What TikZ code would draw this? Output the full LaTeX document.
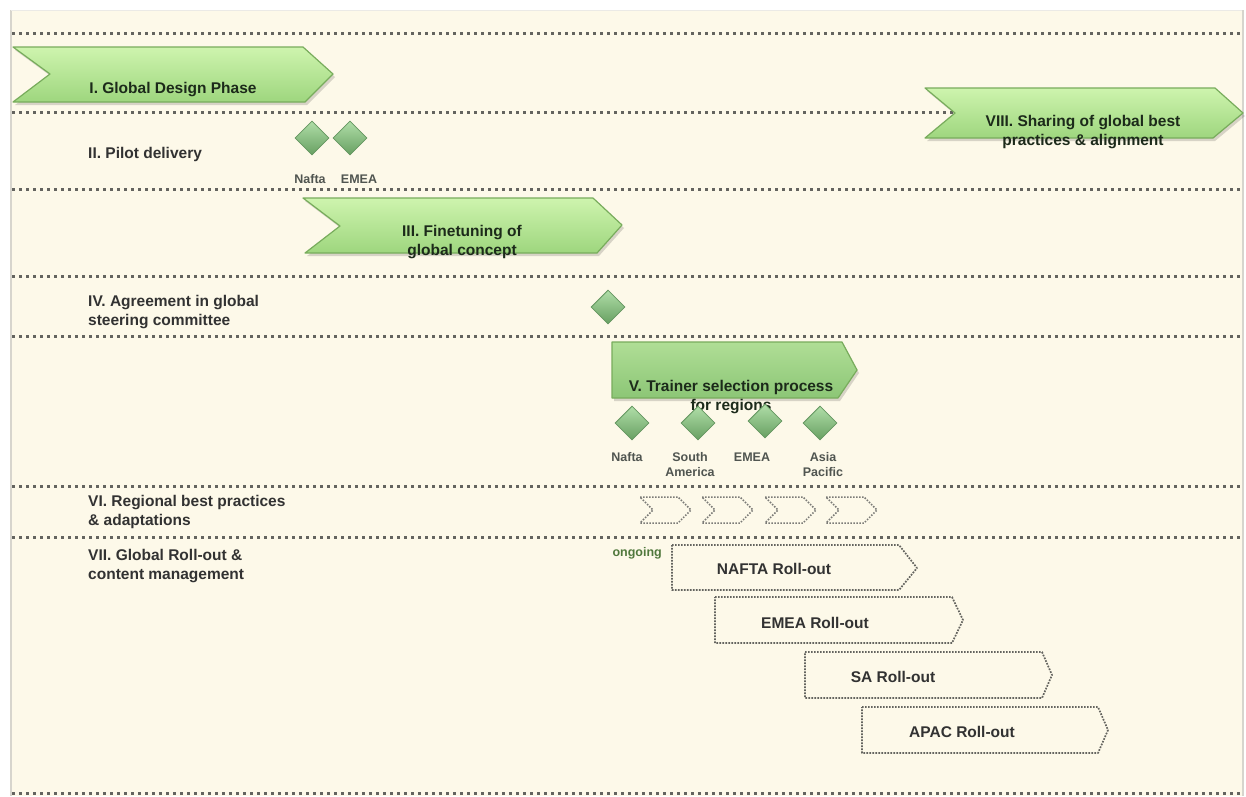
\documentclass[tikz,border=0pt]{standalone}
\usepackage{fontspec}
\setmainfont{Liberation Sans}
\usetikzlibrary{shapes.geometric}
\definecolor{cream}{RGB}{253,249,233}
\definecolor{edgegray}{RGB}{215,213,205}
\definecolor{dotgray}{RGB}{100,100,95}
\definecolor{labgray}{RGB}{50,50,50}
\definecolor{smallgray}{RGB}{80,85,80}
\definecolor{intextc}{RGB}{28,42,26}
\definecolor{gtop}{RGB}{206,244,174}
\definecolor{gbot}{RGB}{158,214,126}
\definecolor{gedge}{RGB}{120,172,92}
\definecolor{vtop}{RGB}{176,222,150}
\definecolor{vbot}{RGB}{140,198,118}
\definecolor{dtop}{RGB}{176,222,168}
\definecolor{dbot}{RGB}{104,160,98}
\definecolor{dedge}{RGB}{100,150,96}
\definecolor{ongoingc}{RGB}{80,120,60}
\begin{document}
\begin{tikzpicture}[x=1pt,y=-1pt,
  lab/.style={font=\fontsize{15.5}{18.5}\selectfont\bfseries, text=labgray, align=left, anchor=west, inner sep=0pt},
  intext/.style={font=\fontsize{15.5}{19}\selectfont\bfseries, text=intextc, align=center, inner sep=0pt},
  rolltext/.style={font=\fontsize{15.5}{19}\selectfont\bfseries, text=labgray, align=center, inner sep=0pt},
  small/.style={font=\fontsize{12.5}{15}\selectfont\bfseries, text=smallgray, align=center, inner sep=0pt},
  shadowfill/.style={fill=black, fill opacity=0.15},
  greenarrow/.style={top color=gtop, bottom color=gbot, draw=gedge, line width=1.2pt, line join=round},
  varrow/.style={top color=vtop, bottom color=vbot, draw=gedge, line width=1.2pt, line join=round},
  dia/.style={diamond, minimum width=34pt, minimum height=34pt, inner sep=0pt, top color=dtop, bottom color=dbot, draw=dedge, line width=0.8pt},
  sepline/.style={draw=dotgray, line width=3pt, dash pattern=on 3pt off 4pt},
  rollbox/.style={draw=dotgray, line width=1.7pt, dash pattern=on 1.7pt off 1.3pt, line join=round},
  smallchev/.style={draw=dotgray!85, line width=1.5pt, dash pattern=on 1.5pt off 1.5pt, line join=round}
]
\useasboundingbox (0,0) rectangle (1246,796);
\fill[white] (0,0) rectangle (1246,796);
\fill[cream] (11,10) rectangle (1242,796);
\draw[edgegray, line width=2pt] (11,10) -- (11,796);
\draw[edgegray, line width=2pt] (1243,10) -- (1243,796);
\draw[edgegray!50, line width=1pt] (11,10) -- (1242,10);

% separator lines
\foreach \yy in {33,112,189,276,336,486,537,793}
  \draw[sepline] (12,\yy) -- (1242,\yy);

% I. Global Design Phase
\fill[shadowfill] (15,50) -- (305,50) -- (335,77) -- (307,105) -- (15,105) -- (52,77) -- cycle;
\draw[greenarrow] (13,47) -- (303,47) -- (333,74) -- (305,102) -- (13,102) -- (50,74) -- cycle;
\node[intext] (t1) at (173,90) {I. Global Design Phase};

% VIII
\fill[shadowfill] (927,91) -- (1217,91) -- (1245,116) -- (1215,141) -- (927,141) -- (957,116) -- cycle;
\draw[greenarrow] (925,88) -- (1215,88) -- (1243,113) -- (1213,138) -- (925,138) -- (955,113) -- cycle;
\node[intext] (t8) at (1083,132) {VIII. Sharing of global best\\practices \& alignment};

% II
\node[lab] (l2) at (88,154) {II. Pilot delivery};
\node[dia] (d2a) at (312,138) {};
\node[dia] (d2b) at (350,138) {};
\node[small] (n2a) at (310,179) {Nafta};
\node[small] (n2b) at (359,179) {EMEA};

% III
\fill[shadowfill] (305,201) -- (595,201) -- (624,228) -- (599,256) -- (307,256) -- (342,229) -- cycle;
\draw[greenarrow] (303,198) -- (593,198) -- (622,225) -- (597,253) -- (305,253) -- (340,226) -- cycle;
\node[intext] (t3) at (462,242) {III. Finetuning of\\global concept};

% IV
\node[lab] (l4) at (88,312) {IV. Agreement in global\\steering committee};
\node[dia] (d4) at (608,307) {};

% V
\fill[shadowfill] (614,345) -- (844,345) -- (859,373) -- (840,401) -- (614,401) -- cycle;
\draw[varrow] (612,342) -- (842,342) -- (857,370) -- (838,398) -- (612,398) -- cycle;
\node[intext] (t5) at (731,397) {V. Trainer selection process\\for regions};
\node[dia] (d5a) at (632,423) {};
\node[dia] (d5b) at (698,423) {};
\node[dia] (d5c) at (765,421) {};
\node[dia] (d5d) at (820,423) {};
\node[small] (n5a) at (627,457) {Nafta};
\node[small] (n5b) at (690,465) {South\\America};
\node[small] (n5c) at (752,457) {EMEA};
\node[small] (n5d) at (823,465) {Asia\\Pacific};

% VI
\node[lab] (l6) at (88,512) {VI. Regional best practices\\\& adaptations};
\foreach \xx in {640,702,765,826}
  \draw[smallchev] (\xx,497) -- (\xx+38,497) -- (\xx+51,510) -- (\xx+38,523) -- (\xx,523) -- (\xx+13,510) -- cycle;

% VII
\node[lab] (l7) at (88,566) {VII. Global Roll-out \&\\content management};
\node[small, text=ongoingc, anchor=east] (og) at (662,553) {ongoing};
\draw[rollbox] (672,545) -- (899,545) -- (917,568) -- (899,590) -- (672,590) -- cycle;
\node[rolltext] (r1) at (774,569) {NAFTA Roll-out};
\draw[rollbox] (715,597) -- (952,597) -- (963,620) -- (952,643) -- (715,643) -- cycle;
\node[rolltext] (r2) at (815,623) {EMEA Roll-out};
\draw[rollbox] (805,652) -- (1042,652) -- (1052,675) -- (1042,698) -- (805,698) -- cycle;
\node[rolltext] (r3) at (893,677) {SA Roll-out};
\draw[rollbox] (862,707) -- (1098,707) -- (1108,730) -- (1098,753) -- (862,753) -- cycle;
\node[rolltext] (r4) at (962,732) {APAC Roll-out};
\end{tikzpicture}
\end{document}
